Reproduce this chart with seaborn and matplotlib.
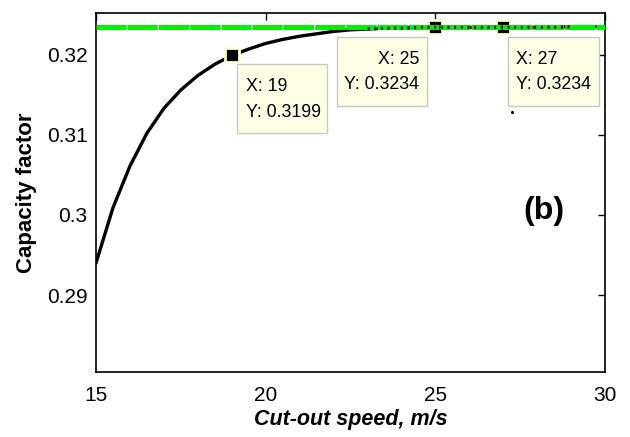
import matplotlib
matplotlib.use("Agg")
import matplotlib.pyplot as plt
import seaborn as sns
import pandas as pd
from matplotlib.patches import Rectangle

# ---- data ----
cutout_speed = [15, 15.5, 16, 16.5, 17, 17.5, 18, 18.5, 19, 19.5, 20, 20.5, 21,
                21.5, 22, 22.5, 23, 23.5, 24, 24.5, 25, 25.5, 26, 26.5, 27,
                27.5, 28, 28.5, 29, 29.5, 30]
capacity_factor = [0.2940, 0.3009, 0.3061, 0.3102, 0.3133, 0.3156, 0.3174,
                   0.3188, 0.3199, 0.3207, 0.3214, 0.3219, 0.3223, 0.3226,
                   0.3229, 0.3231, 0.3232, 0.3233, 0.3233, 0.3234, 0.3234,
                   0.3234, 0.3234, 0.3234, 0.3234, 0.3234, 0.3234, 0.3234,
                   0.3235, 0.3235, 0.3235]
reference_x = [15, 30]
reference_y = [0.32345, 0.32345]
tip_x = [19, 25, 27]
tip_y = [0.3199, 0.3234, 0.3234]
tip_labels = [("X: 19", "Y: 0.3199"), ("X: 25", "Y: 0.3234"), ("X: 27", "Y: 0.3234")]
x_ticks = [15, 20, 25, 30]
y_ticks = [0.29, 0.30, 0.31, 0.32]
y_tick_labels = ["0.29", "0.3", "0.31", "0.32"]

sns.set_style("white")
plt.rcParams["font.family"] = ["Liberation Sans", "DejaVu Sans"]
plt.rcParams["text.color"] = "black"
plt.rcParams["axes.labelcolor"] = "black"

df = pd.DataFrame({"x": cutout_speed, "y": capacity_factor})
ref = pd.DataFrame({"x": reference_x, "y": reference_y})
tips = pd.DataFrame({"x": tip_x, "y": tip_y})

fig = plt.figure(figsize=(6.3, 4.37), dpi=100)
ax = fig.add_axes([0.1524, 0.1487, 0.808, 0.8216])

sns.lineplot(data=df, x="x", y="y", ax=ax, color="black", linewidth=2.4, zorder=3)
sns.lineplot(data=ref, x="x", y="y", ax=ax, color="#00EE00", linewidth=3.6,
             dashes=False, zorder=5)
ax.lines[-1].set_dashes((6, 0.25))
plateau = df[(df.x >= 23) & (df.x <= 29)]
ax.plot(plateau.x, plateau.y, color="black", linestyle=(0, (0.6, 1.4)),
        linewidth=2.4, zorder=6)

# data tip markers
ax.plot(tips.x[:1], tips.y[:1], linestyle="none", marker="s", markersize=10,
        markerfacecolor="black", markeredgecolor="#FFFFDC", markeredgewidth=2, zorder=7)
ax.plot(tips.x[1:], tips.y[1:], linestyle="none", marker="s", markersize=10,
        markerfacecolor="black", markeredgecolor="#FFFFDC", markeredgewidth=2, zorder=4)

# data tip boxes (data coords)
boxes = [(19.16, 0.31025, 2.65, 0.00863), (22.11, 0.31363, 2.65, 0.00862),
         (27.15, 0.31363, 2.66, 0.00862)]
for (bx, by, bw, bh) in boxes:
    ax.add_patch(Rectangle((bx, by), bw, bh, facecolor="#FFFFE6", edgecolor="#C8C8C8",
                           linewidth=1, zorder=8))
fs_tip = 12.8
ax.text(19.41, 0.31604, tip_labels[0][0], fontsize=fs_tip, va="center", ha="left", zorder=9)
ax.text(19.41, 0.31279, tip_labels[0][1], fontsize=fs_tip, va="center", ha="left", zorder=9)
ax.text(24.53, 0.31938, tip_labels[1][0], fontsize=fs_tip, va="center", ha="right", zorder=9)
ax.text(24.53, 0.31625, tip_labels[1][1], fontsize=fs_tip, va="center", ha="right", zorder=9)
ax.text(27.39, 0.31938, tip_labels[2][0], fontsize=fs_tip, va="center", ha="left", zorder=9)
ax.text(27.39, 0.31625, tip_labels[2][1], fontsize=fs_tip, va="center", ha="left", zorder=9)

ax.text(28.19, 0.3005, "(b)", fontsize=23, fontweight="bold", ha="center", va="center")
ax.plot([27.27], [0.31284], marker="o", markersize=1.2, color="black")

ax.set_xlim(15, 30)
ax.set_ylim(0.2804, 0.3252)
ax.set_xticks(x_ticks)
ax.set_yticks(y_ticks)
ax.set_yticklabels(y_tick_labels)
ax.tick_params(direction="in", length=5, width=1, labelsize=15, top=True, right=True,
               colors="black", pad=10)
ax.tick_params(axis="y", pad=6)
for s in ax.spines.values():
    s.set_color("black")
    s.set_linewidth(1.2)
ax.set_xlabel("Cut-out speed, m/s", fontsize=15.5, fontweight="bold", style="italic", labelpad=3)
ax.set_ylabel("Capacity factor", fontsize=16, fontweight="bold", labelpad=7)

fig.savefig("out.png", dpi=100)
